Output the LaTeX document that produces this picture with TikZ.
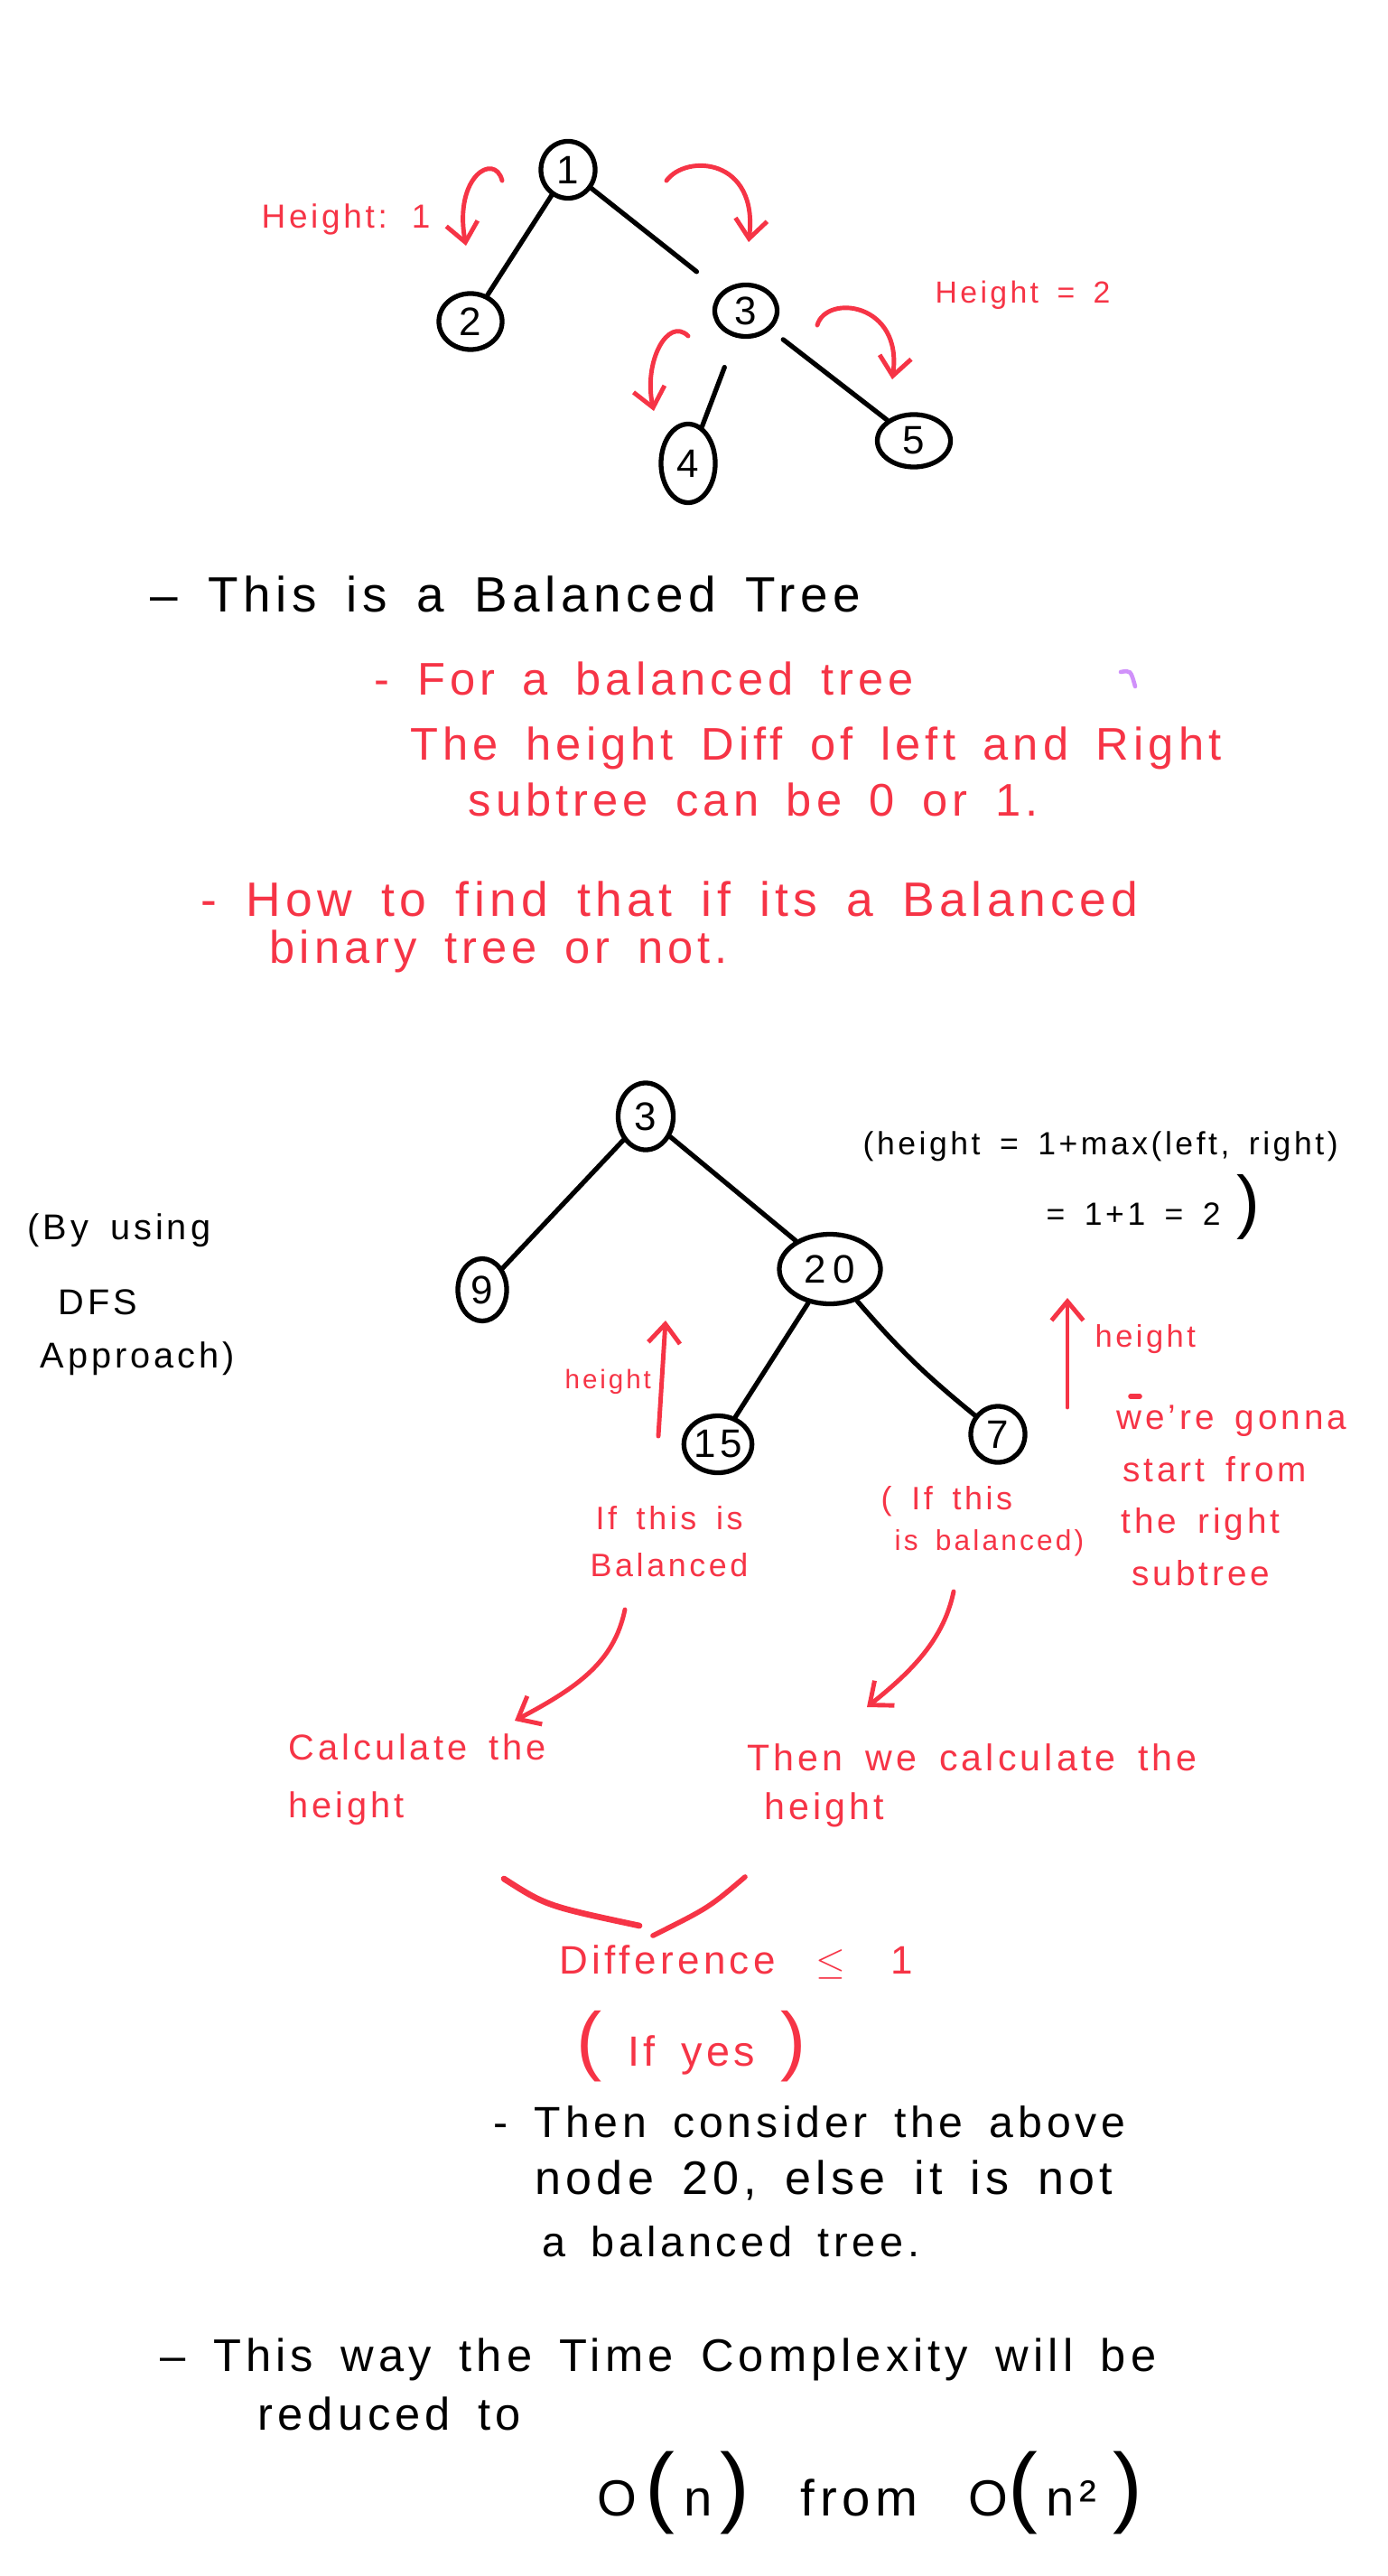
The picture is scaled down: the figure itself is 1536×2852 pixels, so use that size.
\documentclass[tikz,border=0pt]{standalone}
\usepackage{fontspec}
\setmainfont{Liberation Sans}[LetterSpace=10,WordSpace=1.6]
\usetikzlibrary{shapes.geometric,arrows.meta}
\definecolor{inkred}{RGB}{246,52,70}
\definecolor{inkpurple}{RGB}{208,145,250}
\newcommand{\penfs}[1]{\fontsize{#1pt}{#1pt}\selectfont}
\begin{document}
\begin{tikzpicture}[x=0.01cm,y=-0.01cm,
    tnode/.style={draw,ellipse,line width=1.5pt,inner sep=0pt,font=\penfs{12.5}},
    edge/.style={draw,line width=1.5pt,line cap=round},
    note/.style={anchor=west,inner sep=0pt},
    blk/.style={note,font=\penfs{14.4}},
    rtxt/.style={note,text=inkred,font=\penfs{14.4}},
    redline/.style={draw=inkred,line width=1.6pt,line cap=round},
    rarc/.style={redline,line width=1.4pt,-{Straight Barb[length=6pt,width=10pt]}}
  ]
  %% page
  \fill[white] (0,0) rectangle (1536,2852);
  \useasboundingbox (0,0) rectangle (1536,2852);
  %% first tree
  \node[tnode,minimum width=0.6cm,minimum height=0.63cm]  (n1) at (629,188) {1};
  \node[tnode,minimum width=0.7cm,minimum height=0.62cm]  (n2) at (521,356) {2};
  \node[tnode,minimum width=0.69cm,minimum height=0.57cm] (n3) at (826,344) {3};
  \node[tnode,minimum width=0.6cm,minimum height=0.87cm]  (n4) at (762,513) {4};
  \node[tnode,minimum width=0.81cm,minimum height=0.58cm] (n5) at (1012,488) {5};
  \foreach \p/\c/\a/\b in {n1/n2/0/0,n1/n3/0/10,n3/n4/10/0,n3/n5/5/0}
    \draw[edge,shorten <=\a pt,shorten >=\b pt] (\p) -- (\c);
  %% height arcs of the first tree
  \coordinate (h1a) at (556,200);  \coordinate (h1b) at (516,272);
  \coordinate (h2a) at (738,200);  \coordinate (h2b) at (829,268);
  \coordinate (h3a) at (762,372);  \coordinate (h3b) at (724,455);
  \coordinate (h4a) at (905,360);  \coordinate (h4b) at (988,420);
  \draw[rarc] (h1a) .. controls (548,168) and (502,195) .. (h1b);
  \draw[rarc] (h2a) .. controls (760,170) and (840,175) .. (h2b);
  \draw[rarc] (h3a) .. controls (740,350) and (712,400) .. (h3b);
  \draw[rarc] (h4a) .. controls (915,325) and (1000,335) .. (h4b);
  \node[rtxt,font=\penfs{10.5}] (lh1) at (289,243) {Height: 1};
  \node[rtxt,font=\penfs{9.6}] (lh2) at (1035,327) {Height = 2};
  %% notes under the first tree
  \node[blk,font=\penfs{15.6}] (t1) at (166,658) {– This is a Balanced Tree};
  \node[rtxt] (t2) at (414,751) {- For a balanced tree};
  \node[rtxt] (t3) at (454,828) {The height Diff of left and Right};
  \node[rtxt] (t4) at (518,885) {subtree can be 0 or 1.};
  \node[rtxt,font=\penfs{15.2}] (t5) at (222,995) {- How to find that if its a Balanced};
  \node[rtxt] (t6) at (298,1053) {binary tree or not.};
  \draw[inkpurple,line width=1.3pt,line cap=round] (1241,744) .. controls (1252,742) .. (1257,760);
  %% second tree
  \node[tnode,minimum width=0.61cm,minimum height=0.74cm] (m3)  at (715,1236) {3};
  \node[tnode,minimum width=0.54cm,minimum height=0.69cm] (m9)  at (534,1428) {9};
  \node[tnode,minimum width=1.12cm,minimum height=0.77cm] (m20) at (919,1405) {2\,0};
  \node[tnode,minimum width=0.72cm,minimum height=0.63cm] (m15) at (795,1599) {15};
  \node[tnode,minimum width=0.6cm,minimum height=0.62cm]  (m7)  at (1105,1588) {7};
  \foreach \p/\c in {m3/m9,m3/m20,m20/m15}
    \draw[edge] (\p) -- (\c);
  \draw[edge] (m20) to[bend right=5] (m7);
  %% formula and approach
  \node[blk,font=\penfs{10.1}] (f1) at (955,1269) {(height = 1+max(left, right)};
  \node[blk,font=\penfs{10.1}] (f2) at (1158,1336) {= 1+1 = 2\enspace{\penfs{22})}};
  \node[blk,font=\penfs{11.3}] (d1) at (30,1362) {(By using};
  \node[blk,font=\penfs{11.3}] (d2) at (64,1442) {DFS};
  \node[blk,font=\penfs{11.3}] (d3) at (44,1504) {Approach)};
  %% height marks of the second tree
  \coordinate (hl0) at (729,1590); \coordinate (hl1) at (737,1462);
  \coordinate (hr0) at (1182,1558); \coordinate (hr1) at (1182,1437);
  \draw[rarc] (hl0) -- (hl1);
  \draw[rarc] (hr0) -- (hr1);
  \node[rtxt,font=\penfs{8.4}] (hlt) at (625,1530) {height};
  \node[rtxt,font=\penfs{9.8}] (hrt) at (1212,1483) {height};
  \draw[redline] (1252,1546) -- (1262,1546);
  \node[rtxt,font=\penfs{11}] (w1) at (1236,1573) {we're gonna};
  \node[rtxt,font=\penfs{11}] (w2) at (1243,1627) {start from};
  \node[rtxt,font=\penfs{11}] (w3) at (1241,1687) {the right};
  \node[rtxt,font=\penfs{11}] (w4) at (1253,1742) {subtree};
  \node[rtxt,anchor=center,font=\penfs{10.2}] (b1) at (741,1681) {If this is};
  \node[rtxt,anchor=center,font=\penfs{10.2}] (b2) at (741,1733) {Balanced};
  \node[rtxt,font=\penfs{10.2}] (c1) at (975,1662) {( If this};
  \node[rtxt,font=\penfs{9}] (c2) at (990,1708) {is balanced)};
  %% calculation steps
  \coordinate (cl0) at (692,1782); \coordinate (cl1) at (570,1905);
  \coordinate (cr0) at (1056,1762); \coordinate (cr1) at (960,1890);
  \draw[rarc] (cl0) .. controls (680,1840) and (640,1868) .. (cl1);
  \draw[rarc] (cr0) .. controls (1045,1815) and (1010,1850) .. (cr1);
  \node[rtxt,font=\penfs{11.3}] (k1) at (319,1934) {Calculate the};
  \node[rtxt,font=\penfs{11.3}] (k2) at (319,2002) {height};
  \node[rtxt,font=\penfs{11.7}] (k3) at (827,1946) {Then we calculate the};
  \node[rtxt,font=\penfs{11.7}] (k4) at (846,2004) {height};
  \coordinate (v1) at (558,2080); \coordinate (v2) at (708,2132);
  \coordinate (v3) at (723,2143); \coordinate (v4) at (825,2078);
  \draw[redline,line width=1.9pt] (v1) .. controls (605,2110) .. (v2);
  \draw[redline] (v3) .. controls (785,2112) .. (v4);
  \node[rtxt,font=\penfs{12.5}] (df) at (619,2172) {Difference\hspace{0.45cm}$\leq$\hspace{0.5cm}1};
  \node[rtxt,font=\penfs{13.3}] (iy) at (638,2266) {{\penfs{24}(}\ If yes\ {\penfs{24})}};
  %% conclusion
  \node[blk,font=\penfs{13.7}] (e1) at (546,2349) {- Then consider the above};
  \node[blk,font=\penfs{14.8}] (e2) at (592,2414) {node 20, else it is not};
  \node[blk,font=\penfs{13.3}] (e3) at (600,2482) {a balanced tree.};
  \node[blk] (g1) at (177,2612) {– This way the Time Complexity will be};
  \node[blk] (g2) at (285,2672) {reduced to};
  \node[blk,font=\penfs{16}] (g3) at (661,2760) {O\,{\penfs{28}(}\,n\,{\penfs{28})}\quad from\quad O{\penfs{28}(}\,n²\,\,{\penfs{28})}};
\end{tikzpicture}
\end{document}
